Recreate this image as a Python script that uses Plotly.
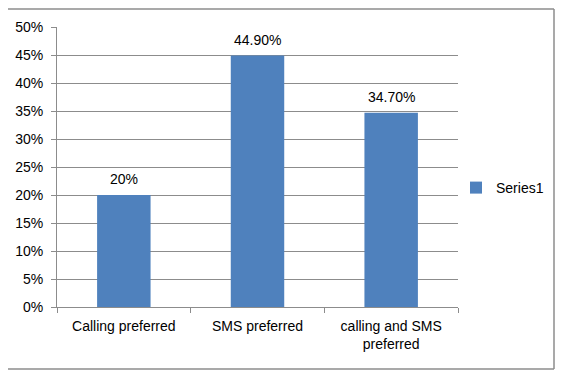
import plotly.graph_objects as go

categories = ["Calling preferred", "SMS preferred", "calling and SMS<br>preferred"]
values = [0.20, 0.449, 0.347]
labels = ["20%", "44.90%", "34.70%"]
series_name = "Series1"

W, H = 564, 378
L, R, T, B = 57, 458, 27, 307

fig = go.Figure()
fig.add_trace(go.Bar(
    x=categories, y=values, name=series_name,
    marker=dict(color="#4F81BD", line=dict(width=0)),
    showlegend=True,
))

for c, v, t in zip(categories, values, labels):
    fig.add_annotation(x=c, y=v, text=t, showarrow=False, yanchor="bottom",
                       yshift=6, font=dict(size=14, color="#000000"))

def px_x(p):
    return (p - L) / (R - L)

def px_y(p):
    return (B - p) / (B - T)

frame_col = "#8c8c8c"
shapes = [
    dict(type="line", xref="paper", yref="paper", x0=px_x(8), x1=px_x(554), y0=px_y(9), y1=px_y(9), line=dict(color=frame_col, width=1.5)),
    dict(type="line", xref="paper", yref="paper", x0=px_x(554), x1=px_x(554), y0=px_y(9), y1=px_y(369), line=dict(color=frame_col, width=1.5)),
    dict(type="line", xref="paper", yref="paper", x0=px_x(8), x1=px_x(554), y0=px_y(369), y1=px_y(369), line=dict(color=frame_col, width=1.5)),
]

fig.update_layout(
    width=W, height=H,
    margin=dict(l=L, r=W - R, t=T, b=H - B, pad=0, autoexpand=False),
    paper_bgcolor="white", plot_bgcolor="white",
    bargap=0.6,
    font=dict(family="Liberation Sans", size=14, color="#000000"),
    showlegend=True,
    legend=dict(xref="container", yref="container", x=456 / W, y=1 - 188 / H,
                xanchor="left", yanchor="middle",
                font=dict(size=14), itemwidth=30, bgcolor="rgba(0,0,0,0)"),
    shapes=shapes,
    xaxis=dict(
        showline=True, linecolor="#8c8c8c", linewidth=1,
        ticks="outside", ticklen=5, tickcolor="#8c8c8c", tickson="boundaries",
        showgrid=False, tickfont=dict(size=14), ticklabelstandoff=6,
        automargin=False,
    ),
    yaxis=dict(
        range=[0, 0.5], dtick=0.05, tickformat=".0%",
        showline=True, linecolor="#8c8c8c", linewidth=1,
        ticks="outside", ticklen=5, tickcolor="#8c8c8c",
        showgrid=True, gridcolor="#8c8c8c", gridwidth=1,
        zeroline=False, tickfont=dict(size=14), ticklabelstandoff=5,
        automargin=False,
    ),
)

fig.write_html("out.html")
